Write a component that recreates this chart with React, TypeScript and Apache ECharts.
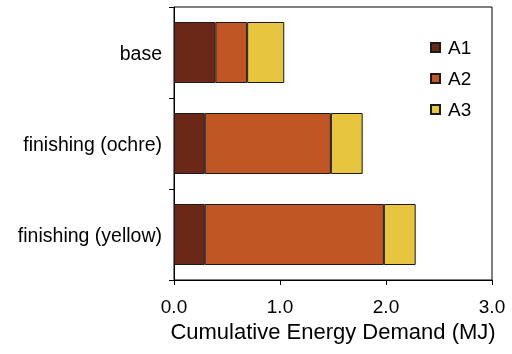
import React, { useEffect, useRef } from "react";
import * as echarts from "echarts";

const categories = ["base", "finishing (ochre)", "finishing (yellow)"];
const seriesNames = ["A1", "A2", "A3"];
const a1Values = [0.39, 0.29, 0.29];
const a2Values = [0.3, 1.19, 1.69];
const a3Values = [0.35, 0.3, 0.3];
const seriesColors = ["#6B2817", "#C05623", "#E8C53E"];

export default function App() {
  const ref = useRef<HTMLDivElement>(null);
  useEffect(() => {
    if (!ref.current) return;
    const chart = echarts.init(ref.current, null, { renderer: "svg" });
    const values = [a1Values, a2Values, a3Values];
    const font = "Liberation Sans, Arial, sans-serif";
    chart.setOption({
      animation: false,
      textStyle: { fontFamily: font, color: "#000" },
      grid: {
        left: 174,
        right: 20,
        top: 7,
        bottom: 74,
        show: true,
        borderColor: "#000",
        borderWidth: 1,
        backgroundColor: "transparent",
      },
      legend: {
        orient: "vertical",
        left: 425,
        top: 33,
        icon: "rect",
        itemWidth: 9,
        itemHeight: 9,
        itemGap: 12,
        textStyle: { fontSize: 19, color: "#000", fontFamily: font, padding: [0, 0, 0, 3] },
        data: seriesNames,
      },
      xAxis: {
        type: "value",
        min: 0,
        max: 3,
        interval: 1,
        name: "Cumulative Energy Demand (MJ)",
        nameLocation: "middle",
        nameGap: 39,
        nameTextStyle: { fontSize: 22, color: "#000", fontFamily: font },
        axisLine: { show: true, lineStyle: { color: "#000", width: 1 } },
        axisTick: { show: true, length: 5, lineStyle: { color: "#000" } },
        axisLabel: {
          fontSize: 19,
          color: "#000",
          margin: 17,
          fontFamily: font,
          formatter: (v: number) => v.toFixed(1),
        },
        splitLine: { show: false },
      },
      yAxis: {
        type: "category",
        data: categories,
        inverse: true,
        axisLine: { show: true, lineStyle: { color: "#000", width: 1 } },
        axisTick: { show: true, length: 5, lineStyle: { color: "#000" } },
        axisLabel: { fontSize: 19.5, color: "#000", margin: 12, fontFamily: font },
      },
      series: seriesNames.map((name, i) => ({
        name,
        type: "bar",
        stack: "total",
        data: values[i],
        barWidth: 61,
        itemStyle: { color: seriesColors[i], borderColor: "#1a1a1a", borderWidth: 1 },
      })),
    });
    return () => chart.dispose();
  }, []);
  return (
    <div
      ref={ref}
      style={{ position: "fixed", left: 0, top: 0, width: 512, height: 354 }}
    />
  );
}
